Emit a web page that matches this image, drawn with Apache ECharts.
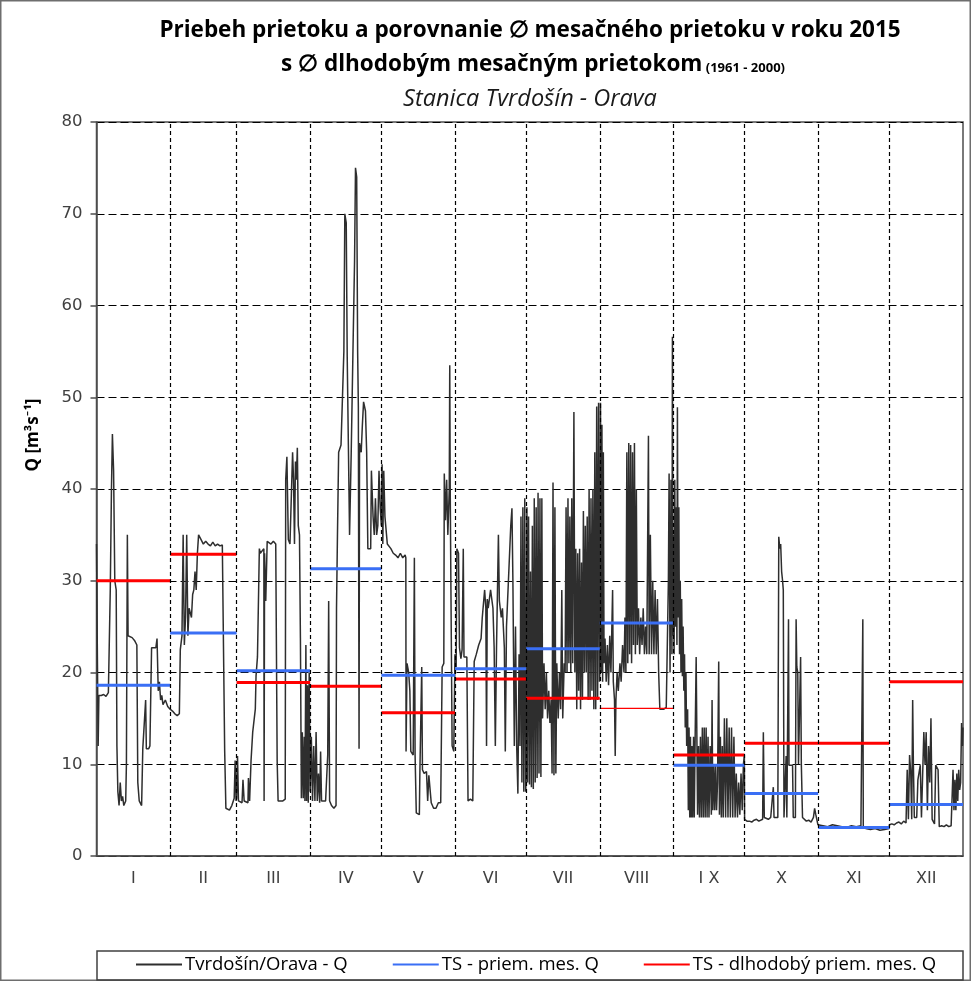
<!DOCTYPE html>
<html>
<head>
<meta charset="utf-8">
<script src="https://cdn.jsdelivr.net/npm/echarts@6/dist/echarts.min.js"></script>
<style>
  html, body { margin: 0; padding: 0; background: #fff; }
  #chart { width: 971px; height: 981px; }
</style>
</head>
<body>
<div id="chart"></div>
<script>
// month labels and lengths (2015)
const months = ['I', 'II', 'III', 'IV', 'V', 'VI', 'VII', 'VIII', 'I X', 'X', 'XI', 'XII'];
const monthDays = [31, 28, 31, 30, 31, 30, 31, 31, 30, 31, 30, 31];

// TS - priem. mes. Q (2015 monthly mean)
const monthAvgQ = [18.6, 24.3, 20.2, 31.3, 19.7, 20.4, 22.6, 25.4, 9.9, 6.8, 3.1, 5.6];
// TS - dlhodobý priem. mes. Q (1961-2000)
const longTermQ = [30.0, 32.9, 18.9, 18.5, 15.6, 19.3, 17.2, 16.1, 11.0, 12.3, 12.3, 19.0];

// Tvrdošín/Orava - Q, [day within month, Q]
const qJan = [[0,34],[0.3,24],[0.7,12],[1,17.5],[2,17.5],[3,17.6],[4,17.4],[5,17.8],[5.8,29],[6.3,40],[6.7,46],[7.2,42],[7.7,30],[8.3,29],[8.6,12],[9,7],[9.5,5.5],[10,8],[10.5,6],[11,6.5],[11.5,5.5],[12.3,6],[12.6,10],[13,35],[13.3,24],[14,24],[15,23.8],[16,23.5],[17,23],[17.4,8],[18,6],[19,5.5],[19.5,11.7],[20,11.7],[20.7,17],[21,11.7],[22,11.7],[22.5,12],[23.2,22.7],[24,22.7],[25,22.7],[25.5,23.7],[26,18],[26.5,19],[27,17],[27.5,17.5],[28,16.5],[29,17],[30,16.3]];
const qFeb = [[0,16],[1,15.8],[2,15.5],[3,15.3],[3.9,15.5],[4.3,22.5],[5,24],[5.5,35],[6,23],[6.5,26],[7,35],[7.5,24],[8,27],[9,26],[9.5,28.5],[10,29],[10.5,31],[11,29],[11.5,33],[12,35],[13,34.5],[14,34],[15,34.3],[16,34],[17,33.8],[18,34.2],[19,33.8],[20,34],[21,33.8],[22,33.9],[22.8,33.8],[23,11.4],[23.5,5.2],[24,5],[25,5],[26,5.5],[27,6.3],[27.4,10.4],[27.8,6]];
const qMar = [[0,6.3],[0.4,10.9],[0.8,6],[1.5,6.2],[2.3,5.8],[2.7,8.3],[3.2,6],[4,5.8],[4.8,5.8],[5,8.5],[5.5,6],[6.1,10.4],[6.8,13.5],[7.5,13.5],[7.9,16],[8.2,19.6],[8.8,21.7],[9.3,29],[9.6,33.5],[10,33],[10.8,33],[11.5,33.5],[11.6,6],[11.8,33],[12.3,27.8],[12.9,34.3],[13.5,34.5],[14.5,34],[15.5,34.3],[16.5,34],[17,34.2],[17.1,10.4],[17.5,6],[18.5,6],[19.5,6],[20.5,6.2],[20.7,41],[21.2,43.5],[21.8,34.5],[22.5,34],[23.3,34],[23.6,44],[24,41],[24.4,34],[24.8,43],[25.2,41],[25.6,44.5],[26,36],[26.5,35],[26.9,23.7],[27.3,6.3],[27.7,13.5],[28.1,6.3],[28.5,13],[28.8,6],[29.2,23],[29.5,6],[29.9,18.6],[30.2,5.8],[30.6,20]];
const qApr = [[0,7],[0.5,13],[1,6],[1.5,12],[2,6],[2.5,13.5],[3,6],[3.5,9],[4,5.8],[4.4,11.4],[4.8,6],[5.5,5.8],[6.5,6],[7,5.8],[7.4,11],[7.8,27.8],[8.2,6],[9,5.5],[10,5.2],[10.9,5.5],[11.1,27],[11.5,35],[12,44],[13,44.8],[13.8,45],[14.2,55],[14.6,70],[15.2,69],[15.6,54.6],[16.1,44.8],[16.6,35],[17.3,44],[18,54.6],[18.7,64.8],[19.1,75],[19.6,74],[20,55],[20.3,49],[20.6,11.7],[20.8,45],[21.5,44],[22,47],[22.5,49.5],[23.3,48.5],[23.8,44],[24.3,33.5],[25.5,33.5],[25.8,42],[26.5,37],[27,35],[27.5,39],[28,35],[28.5,36],[29,42],[29.5,38]];
const qMay = [[0,36],[0.3,42.7],[0.6,34],[1,42],[1.5,37],[2,37],[2.5,34],[3,34],[4,33.5],[5,33],[6,32.8],[7,32.5],[8,33],[9,32.5],[10,32.8],[10.3,32.5],[10.4,11.4],[10.8,21],[11.5,20],[12,18],[12.4,11.4],[13.4,11],[13.9,32.5],[14.2,11],[14.7,4.7],[15.5,4.5],[16,4.5],[16.2,8.8],[16.8,8.8],[17,20.6],[17.3,9.4],[18,9],[19,9.2],[19.5,6],[20,8.8],[20.5,9],[21,5.8],[22,5.2],[23,5.2],[24,5.8],[25,5.8],[25.4,5.8],[25.6,20.6],[26.3,21],[26.5,41.7],[27,36.6],[27.5,41],[28,35],[28.6,40],[28.8,53.5],[29,40],[29.3,29],[29.8,12],[30.5,11.4]];
const qJun = [[0,22],[0.5,20.6],[0.8,33.5],[1.5,33],[1.9,22.7],[2.5,21.5],[3,22.5],[3.5,33.5],[3.8,21.7],[5,21.7],[5.5,6],[6.5,6.2],[7.5,6],[8,6],[8.1,21.2],[9,22],[10,23],[11,23.7],[11.5,26],[12.5,29],[13,27],[13.3,12],[13.6,28],[14,27],[15,29],[16,27],[16.5,22.7],[17,12],[17.5,22.7],[18.3,35],[18.7,27.8],[19.5,26],[20,27],[20.8,22.7],[21.2,11.4],[21.7,25],[22.5,25],[23.5,36],[24,37.9],[24.4,30],[25,12],[25.5,25],[26,12],[26.5,6.8],[27,22],[27.4,12],[27.8,37],[28.2,8],[28.6,38],[29,7],[29.4,39],[29.8,7]];
const qJul = [[0,9],[0.3,38],[0.6,8],[1,37],[1.4,7.8],[1.8,31],[2.2,7.5],[2.6,36],[3,7.3],[3.4,39],[3.8,8],[4.2,38],[4.6,8.5],[5,39.6],[5.4,9],[5.8,39],[6.2,8.6],[6.6,39],[6.9,15],[7.5,21],[8,16],[8.5,20],[9,15],[9.5,18],[10,14.5],[10.5,17],[10.9,9],[11.3,40.7],[11.7,8.8],[12.1,38],[12.5,9],[12.9,21],[13.5,15],[14,20],[14.5,16],[15,29],[15.4,15],[16,21],[16.4,20],[16.8,38],[17.2,20],[17.6,39],[18,21],[18.4,37],[18.8,20],[19.2,39],[19.6,21],[20.1,48.4],[20.5,20],[20.9,33.5],[21.3,16],[21.7,33],[22.1,18],[22.5,33.5],[22.9,16],[23.3,32],[23.7,17],[24.1,37.6],[24.5,20],[24.9,36],[25.3,20],[25.7,37],[26.1,17],[26.5,40],[26.9,17],[27.3,39],[27.7,18],[28.1,40],[28.5,16],[28.9,44],[29.3,16],[29.7,49],[30.1,17],[30.5,49.4],[30.9,19]];
const qAug = [[0,20],[0.3,49.4],[0.6,20],[0.9,47],[1.2,19],[1.5,44],[1.8,21],[2.2,23.7],[2.7,19],[3.2,23],[3.7,18.6],[4.2,24],[4.7,20],[5.4,29],[5.7,19],[6.2,17],[6.5,10.9],[6.8,17],[7.3,20],[7.8,18],[8.5,21],[9,19],[9.6,23],[10.2,20],[10.6,26],[11,20],[11.4,44],[11.8,21],[12.2,45],[12.6,22],[13,44.8],[13.4,21],[13.8,44],[14.2,23],[14.6,45],[15,22],[15.4,40],[15.8,23],[16.3,27],[16.8,22],[17.3,26],[17.8,23],[18.3,27],[18.8,22],[19.3,25],[19.8,22],[20.5,45.8],[20.8,22],[21.3,35],[21.8,22],[22.3,30],[22.8,22],[23.3,29],[23.8,22],[24.3,28],[24.8,20],[25.3,16],[26,16],[27,16],[28,16.2],[28.6,16],[28.9,30],[29.2,41.7],[29.6,20],[30,41],[30.4,22],[30.6,56.6],[30.8,24]];
const qSep = [[0,35],[0.3,22],[0.6,41],[0.9,25],[1.2,38],[1.5,23],[1.7,48.9],[2,26],[2.3,38],[2.6,22],[2.9,30],[3.2,20],[3.5,28],[3.8,19.6],[4.1,25],[4.4,18],[4.7,22],[5,14],[5.3,20],[5.6,12],[6,16],[6.3,5],[6.6,14],[6.9,4.2],[7.2,13],[7.5,4.2],[7.8,12],[8.1,4.2],[8.5,13],[8.8,4.2],[9.2,13.5],[9.6,21.7],[9.9,13],[10.2,4.5],[10.6,12],[11,4.2],[11.4,13],[11.8,4.2],[12.2,14],[12.6,4.2],[13,14],[13.4,4.2],[13.8,14],[14.2,4.2],[14.6,13],[15,4.2],[15.5,12],[16,4.5],[16.3,17],[16.6,5],[17,10],[17.4,5],[17.8,10],[18.2,5],[18.6,8],[19.1,21.2],[19.4,4.5],[19.8,13],[20.2,4.2],[20.6,12],[21,4.2],[21.5,15],[22,4.2],[22.5,15],[23,4.2],[23.5,14],[24,4.2],[24.5,14],[25,4.2],[25.5,13],[26,4.2],[26.5,9],[27,4.2],[27.5,8],[28,4.5],[28.5,9],[29,5],[29.5,10],[29.9,11]];
const qOct = [[0,4],[1,3.8],[2,3.8],[3,3.7],[4,3.9],[5,4],[6,3.8],[7.6,4],[7.9,13.5],[8.3,4.2],[9,4],[10,4],[11,4.2],[11.8,4.2],[12.1,7.5],[12.4,4.2],[13,4],[14,4.2],[14.2,20],[14.4,34.8],[14.8,33.5],[15.2,34],[15.6,31],[16,30],[16.3,29],[16.6,4.2],[17.2,4.2],[17.5,10.9],[17.8,4.2],[18.3,4.2],[18.5,25.8],[18.7,9.9],[19.5,9.9],[20.2,9.9],[20.5,4.2],[21.4,4.2],[21.7,25.8],[22,20.6],[22.4,20],[22.7,10],[23.3,10],[23.6,21.7],[23.9,10],[24.4,4.2],[25,4],[26,3.8],[27,3.9],[28,3.7],[29,4.2],[29.5,5.2],[30,4.5],[30.9,3.4]];
const qNov = [[0,3.3],[2,3.3],[4,3.2],[6,3.4],[8,3.3],[10,3.2],[12,3.1],[14,3.3],[16,3.2],[18,3.3],[18.6,3.3],[18.8,25.8],[19,3.2],[20,3],[22,2.9],[24,3],[26,2.8],[28,2.9],[29.9,3]];
const qDec = [[0,3.4],[1,3.5],[2,3.4],[3,3.6],[4,3.7],[5,3.5],[6,3.8],[7,3.6],[7.5,9.4],[8,4],[8.5,11],[9,9],[9.4,4],[9.8,17],[10.1,10],[10.5,4.2],[11.5,4.2],[12,8.3],[13,9.9],[13.5,4.2],[14,4.2],[14.5,13.5],[15,10],[15.5,13.5],[16,5],[16.5,12],[17,8],[17.5,15],[18,4],[19,3.5],[19.5,9.9],[20.5,9.4],[21,3.2],[22,3.3],[23,3.2],[24,3.4],[25,3.2],[26,3.3],[26.8,9.4],[27.2,5],[27.6,8.3],[28,5],[28.4,9],[28.8,6],[29.2,9.4],[29.6,7.2],[30,8],[30.4,14.5],[30.8,12],[31,14]];

const flowByMonth = [qJan, qFeb, qMar, qApr, qMay, qJun, qJul, qAug, qSep, qOct, qNov, qDec];

// day-of-year where each month starts
const monthStart = [];
let acc = 0;
monthDays.forEach(function (d) { monthStart.push(acc); acc += d; });
const yearDays = acc;

// continuous flow series
const flowData = [];
flowByMonth.forEach(function (arr, i) {
    arr.forEach(function (p) { flowData.push([monthStart[i] + p[0], p[1]]); });
});

// horizontal month segments, broken between months
function monthSegments(values, only) {
    const out = [];
    values.forEach(function (v, i) {
        if (only && only.indexOf(i) < 0) return;
        out.push([monthStart[i], v]);
        out.push([monthStart[i] + monthDays[i], v]);
        out.push([monthStart[i] + monthDays[i], '-']);
    });
    return out;
}
const thinMonths = [7]; // August long-term line is drawn thinner in the original
const otherMonths = months.map(function (m, i) { return i; }).filter(function (i) { return thinMonths.indexOf(i) < 0; });

const boundaryLines = monthStart.slice(1).map(function (d) { return { xAxis: d }; });
const labelDays = monthStart.map(function (s, i) { return s + monthDays[i] / 2; });

const chart = echarts.init(document.getElementById('chart'));

const legendNames = ['Tvrdošín/Orava - Q', 'TS - priem. mes. Q', 'TS - dlhodobý priem. mes. Q'];
const baseFont = '"Open Sans", Lato, sans-serif';

const option = {
    backgroundColor: '#fff',
    animation: false,
    grid: {
        left: 96.5, right: 8, top: 122, bottom: 125,
        show: true, borderColor: '#4d4d4d', borderWidth: 1.5,
        containLabel: false
    },
    xAxis: {
        type: 'value',
        min: 0,
        max: yearDays,
        axisLine: { show: true, lineStyle: { color: '#4d4d4d', width: 1.5 } },
        axisTick: { show: false },
        splitLine: { show: false },
        axisLabel: {
            customValues: labelDays,
            margin: 15,
            fontFamily: '"DejaVu Sans", sans-serif',
            fontSize: 16,
            color: '#404040',
            formatter: function (v) {
                const i = labelDays.findIndex(function (d) { return Math.abs(d - v) < 0.01; });
                return i >= 0 ? months[i] : '';
            }
        }
    },
    yAxis: {
        type: 'value',
        min: 0,
        max: 80,
        interval: 10,
        name: 'Q [m³s⁻¹]',
        nameLocation: 'middle',
        nameGap: 55,
        nameRotate: 90,
        nameTextStyle: {
            fontFamily: baseFont, fontWeight: 'bold', fontSize: 17, color: '#000',
            padding: [0, 0, 0, 108]
        },
        axisLine: { show: true, lineStyle: { color: '#4d4d4d', width: 1.5 } },
        axisTick: { show: true, inside: false, length: 6, lineStyle: { color: '#4d4d4d', width: 1.5 } },
        axisLabel: {
            margin: 14,
            fontFamily: '"DejaVu Sans", sans-serif',
            fontSize: 16.5,
            color: '#404040'
        },
        splitLine: { show: true, lineStyle: { color: '#000', width: 1, type: [8, 4] } }
    },
    legend: {
        data: legendNames,
        left: 135,
        top: 955,
        padding: 0,
        itemWidth: 46,
        itemHeight: 12,
        itemGap: 44,
        itemStyle: { opacity: 0 },
        textStyle: { fontFamily: baseFont, fontSize: 18.5, color: '#000', padding: [0, 0, 0, -2] }
    },
    graphic: [
        { type: 'rect', silent: true, shape: { x: 0.75, y: 0.75, width: 969.5, height: 979.5 },
          style: { fill: null, stroke: '#6e6e6e', lineWidth: 1.5 } },
        { type: 'rect', silent: true, shape: { x: 97, y: 951, width: 866, height: 29 },
          style: { fill: null, stroke: '#404040', lineWidth: 1.5 } },
        { type: 'text', x: 530, y: 31,
          style: { text: 'Priebeh prietoku a porovnanie ∅ mesačného prietoku v roku 2015',
                   font: 'bold 22.5px "Open Sans", Lato, sans-serif', fill: '#000',
                   textAlign: 'center', textVerticalAlign: 'middle' } },
        { type: 'text', x: 533, y: 65,
          style: { text: '{a|s ∅ dlhodobým mesačným prietokom} {b|(1961 - 2000)}',
                   textAlign: 'center', textVerticalAlign: 'middle',
                   rich: {
                       a: { font: 'bold 22.5px "Open Sans", Lato, sans-serif', fill: '#000' },
                       b: { font: 'bold 13px "Open Sans", Lato, sans-serif', fill: '#000', padding: [6, 0, 0, 0] }
                   } } },
        { type: 'text', x: 530, y: 99,
          style: { text: 'Stanica Tvrdošín - Orava',
                   font: 'italic 23.5px "Open Sans", Lato, sans-serif', fill: '#1a1a1a',
                   textAlign: 'center', textVerticalAlign: 'middle' } }
    ],
    series: [
        {
            name: legendNames[0],
            type: 'line',
            data: flowData,
            symbol: 'none',
            showSymbol: false,
            z: 2,
            lineStyle: { color: '#2e2e2e', width: 1.5 },
            itemStyle: { color: '#2e2e2e' },
            markLine: {
                silent: true,
                symbol: ['none', 'none'],
                label: { show: false },
                lineStyle: { color: '#000', width: 1.2, type: [4, 3] },
                data: boundaryLines
            }
        },
        {
            name: legendNames[1],
            type: 'line',
            data: monthSegments(monthAvgQ),
            symbol: 'none',
            showSymbol: false,
            connectNulls: false,
            z: 4,
            lineStyle: { color: '#3a6ff5', width: 3 },
            itemStyle: { color: '#3a6ff5' }
        },
        {
            name: legendNames[2],
            type: 'line',
            data: monthSegments(longTermQ, otherMonths),
            symbol: 'none',
            showSymbol: false,
            connectNulls: false,
            z: 3,
            lineStyle: { color: '#ff0000', width: 3 },
            itemStyle: { color: '#ff0000' }
        },
        {
            name: legendNames[2],
            type: 'line',
            data: monthSegments(longTermQ, thinMonths),
            symbol: 'none',
            showSymbol: false,
            z: 3,
            lineStyle: { color: '#ff0000', width: 1.2 },
            itemStyle: { color: '#ff0000' }
        }
    ]
};

chart.setOption(option);
</script>
</body>
</html>
